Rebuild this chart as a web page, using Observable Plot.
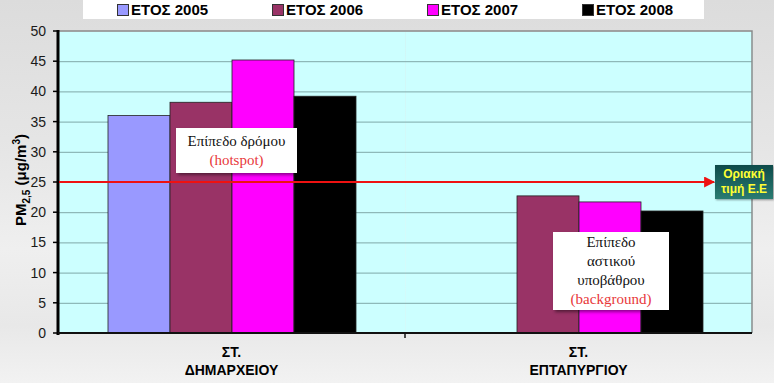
<!DOCTYPE html>
<html>
<head>
<meta charset="utf-8">
<script src="https://cdn.jsdelivr.net/npm/d3@7"></script>
<script src="https://cdn.jsdelivr.net/npm/@observablehq/plot@0.6"></script>
<style>
  html, body { margin: 0; padding: 0; }
  body { width: 774px; height: 383px; overflow: hidden; font-family: "Liberation Sans", Arial, sans-serif; }
  #wrap { position: relative; width: 774px; height: 383px;
    background: linear-gradient(180deg, #dcdcdc 0%, #e6e6e6 40%, #efefef 65%, #e8e8e8 85%, #f2f2f2 100%); }
  #legend { position: absolute; left: 83px; top: 0; width: 621px; height: 19px; background: #fff; }
  .li { position: absolute; top: 1px; font: bold 15px "Liberation Sans", Arial, sans-serif; color: #000; white-space: nowrap; line-height: 17px; }
  .sw { display: inline-block; width: 10px; height: 10px; border: 1px solid #333; margin-right: 2px; vertical-align: -1px; }
  .note { position: absolute; background: #fff; box-shadow: 2px 2px 3px rgba(0,0,0,0.45);
    font: 15px "Liberation Serif", "Times New Roman", serif; color: #111; text-align: center; line-height: 19px; }
  .red { color: #e8383a; }
  #limit { position: absolute; background: linear-gradient(180deg, #0d4a4a 0%, #2a7c72 100%);
    color: #ffff33; font: bold 12px "Liberation Sans", Arial, sans-serif; text-align: center; line-height: 15px;
    box-shadow: 1px 1px 2px rgba(0,0,0,0.4); }
</style>
</head>
<body>
<div id="wrap"></div>
<script>
// ---- data ----
const stations = ["ΣΤ. ΔΗΜΑΡΧΕΙΟΥ", "ΣΤ. ΕΠΤΑΠΥΡΓΙΟΥ"];
const years = ["ΕΤΟΣ 2005", "ΕΤΟΣ 2006", "ΕΤΟΣ 2007", "ΕΤΟΣ 2008"];
const dimarxeio = [36, 38.2, 45.2, 39.2];
const eptapyrgio = [null, 22.7, 21.7, 20.2];
const colors = ["#9999ff", "#993366", "#ff00ff", "#000000"];
const limitValue = 25;
const yTicks = [0, 5, 10, 15, 20, 25, 30, 35, 40, 45, 50];

const data = [];
years.forEach((yr, i) => {
  if (dimarxeio[i] != null) data.push({station: stations[0], year: yr, value: dimarxeio[i]});
  if (eptapyrgio[i] != null) data.push({station: stations[1], year: yr, value: eptapyrgio[i]});
});

const W = 774, H = 383;
const mL = 58, mR = 22, mT = 31, mB = 50;

const plot = Plot.plot({
  width: W, height: H,
  marginLeft: mL, marginRight: mR, marginTop: mT, marginBottom: mB,
  style: {background: "transparent", fontFamily: "Liberation Sans, Arial, sans-serif"},
  fx: {domain: stations, padding: 0, axis: null},
  x: {domain: years, paddingInner: 0, paddingOuter: 0.76, axis: null},
  y: {domain: [0, 50], ticks: yTicks, axis: null},
  color: {domain: years, range: colors},
  marks: [
    Plot.frame({fill: "#ccffff", stroke: null}),
    Plot.ruleY(yTicks.filter(d => d > 0 && d < 50), {stroke: "#7fa8a8", strokeWidth: 1}),
    Plot.barY(data, {fx: "station", x: "year", y: "value", fill: "year", stroke: "#222", strokeWidth: 0.8, inset: 0})
  ]
});

const svg = d3.select(plot);
const fx = plot.scale("fx"), y = plot.scale("y");
const x0 = mL, x1 = W - mR, y0 = y.apply(0), yTop = y.apply(50);
const g = svg.append("g");

// top & right border
g.append("path").attr("d", `M${x0},${yTop}H${x1}V${y0}`).attr("fill", "none").attr("stroke", "#8a8a8a").attr("stroke-width", 1.5);
// y axis
g.append("line").attr("x1", x0).attr("x2", x0).attr("y1", yTop - 1).attr("y2", y0 + 2).attr("stroke", "#000").attr("stroke-width", 3);
yTicks.forEach(t => {
  const yy = y.apply(t);
  g.append("line").attr("x1", x0 - 5).attr("x2", x0).attr("y1", yy).attr("y2", yy).attr("stroke", "#000").attr("stroke-width", 1.5);
  g.append("text").attr("x", x0 - 12).attr("y", yy).attr("dy", "0.35em").attr("text-anchor", "end")
    .attr("font-size", 14).attr("fill", "#1a1a1a").text(t);
});
// x axis
g.append("line").attr("x1", x0).attr("x2", x1).attr("y1", y0).attr("y2", y0).attr("stroke", "#111").attr("stroke-width", 2);
const mid = fx.apply(stations[1]);
g.append("line").attr("x1", mid).attr("x2", mid).attr("y1", y0).attr("y2", y0 + 5).attr("stroke", "#111").attr("stroke-width", 1.5);
stations.forEach(s => {
  const cx = fx.apply(s) + fx.bandwidth / 2;
  const parts = s.split(" ");
  const t = g.append("text").attr("x", cx).attr("text-anchor", "middle").attr("font-size", 14).attr("font-weight", "bold").attr("fill", "#000");
  t.append("tspan").attr("x", cx).attr("y", y0 + 24).text(parts[0]);
  t.append("tspan").attr("x", cx).attr("y", y0 + 42).text(parts[1]);
});
// y axis title
const yt = g.append("text").attr("transform", `translate(26,${(yTop + y0) / 2 - 2}) rotate(-90)`).attr("text-anchor", "middle")
  .attr("font-size", 15).attr("font-weight", "bold").attr("fill", "#000");
yt.append("tspan").text("PM");
yt.append("tspan").attr("font-size", 10).attr("dy", 4).text("2,5");
yt.append("tspan").attr("dy", -4).text(" (μg/m");
yt.append("tspan").attr("font-size", 10).attr("dy", -6).text("3");
yt.append("tspan").attr("dy", 6).text(")");

// limit line with arrow
const yl = y.apply(limitValue);
const defs = svg.append("defs");
defs.append("marker").attr("id", "arr").attr("viewBox", "0 0 10 10").attr("refX", 9).attr("refY", 5)
  .attr("markerWidth", 5).attr("markerHeight", 5).attr("orient", "auto")
  .append("path").attr("d", "M0,0L10,5L0,10z").attr("fill", "#ee1111");
g.append("line").attr("x1", x0 + 1).attr("x2", 714).attr("y1", yl).attr("y2", yl)
  .attr("stroke", "#ee1111").attr("stroke-width", 2.2).attr("marker-end", "url(#arr)");

const wrap = document.getElementById("wrap");
wrap.appendChild(plot);
plot.style.position = "absolute"; plot.style.left = "0"; plot.style.top = "0";

// legend
const leg = document.createElement("div"); leg.id = "legend"; wrap.appendChild(leg);
const legX = [34, 189, 344, 499];
years.forEach((yr, i) => {
  const d = document.createElement("div"); d.className = "li"; d.style.left = legX[i] + "px";
  d.innerHTML = `<span class="sw" style="background:${colors[i]}"></span>${yr}`;
  leg.appendChild(d);
});

// annotations
function note(html, left, top, w, h) {
  const d = document.createElement("div"); d.className = "note";
  Object.assign(d.style, {left: left + "px", top: top + "px", width: w + "px", height: h + "px"});
  d.innerHTML = html; wrap.appendChild(d);
}
note(`<div style="padding-top:4px">Επίπεδο δρόμου</div><div class="red">(hotspot)</div>`, 176, 128, 121, 45);
note(`<div style="padding-top:1px">Επίπεδο</div><div>αστικού</div><div>υποβάθρου</div><div class="red">(background)</div>`, 553, 232, 116, 78);

const lim = document.createElement("div"); lim.id = "limit";
Object.assign(lim.style, {left: "715px", top: (yl - 17) + "px", width: "58px", height: "34px", paddingTop: "2px", boxSizing: "border-box"});
lim.innerHTML = "Οριακή<br>τιμή Ε.Ε";
wrap.appendChild(lim);
</script>
</body>
</html>
